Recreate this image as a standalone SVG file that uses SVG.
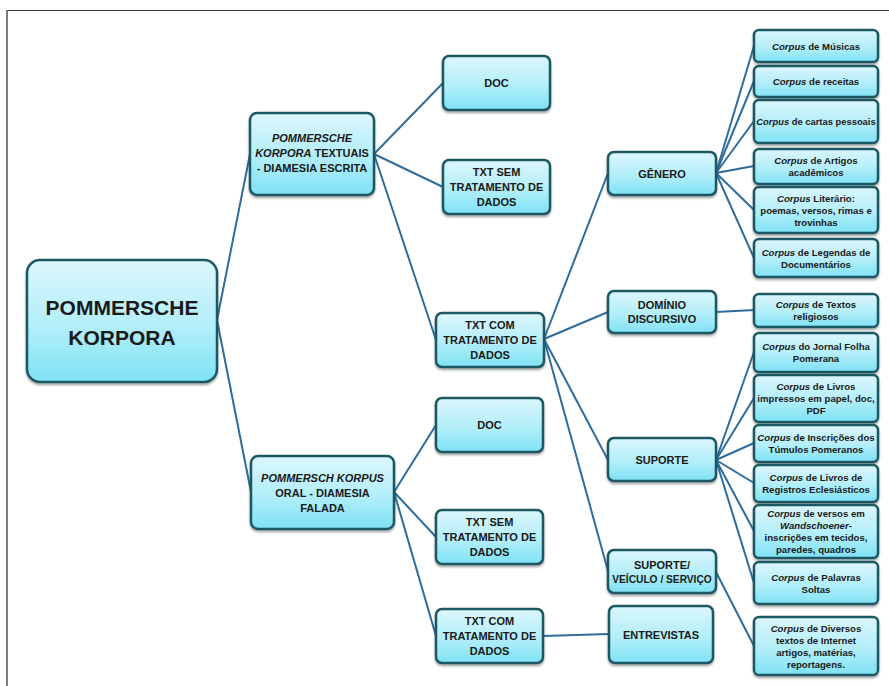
<svg xmlns="http://www.w3.org/2000/svg" width="889" height="686" viewBox="0 0 889 686">
  <defs>
    <linearGradient id="boxFill" x1="0" y1="0" x2="0" y2="1">
      <stop offset="0" stop-color="#dcf6fc"/>
      <stop offset="0.55" stop-color="#b2eef9"/>
      <stop offset="1" stop-color="#7ee2f4"/>
    </linearGradient>
    <filter id="shadow" x="-10%" y="-10%" width="120%" height="130%">
      <feDropShadow dx="0" dy="2" stdDeviation="1.3" flood-color="#000" flood-opacity="0.35"/>
    </filter>
  </defs>
  <style>
    .box { fill: url(#boxFill); stroke: #1f5863; stroke-width: 2.5; filter: url(#shadow); }
    .edge { fill: none; stroke: #2f6c9c; stroke-width: 2; }
    text { font-family: "Liberation Sans", Arial, sans-serif; font-weight: bold; fill: #1a1a1a; text-anchor: middle; }
    .root { font-size: 21px; }
    .l1 { font-size: 11px; }
    .mid { font-size: 11px; }
    .leaf { font-size: 9.6px; }
    .it { font-style: italic; }
  </style>

  <rect x="0" y="0" width="889" height="686" fill="#ffffff"/>
  <!-- page frame -->
  <line x1="7" y1="10.5" x2="889" y2="10.5" stroke="#3a3a3a" stroke-width="1"/>
  <line x1="7" y1="10" x2="7" y2="686" stroke="#5a5a5a" stroke-width="1.6"/>

  <g id="connectors">
    <!-- root to level 1 -->
    <path class="edge" d="M217 320 L250 154"/>
    <path class="edge" d="M217 320 L251 492"/>
    <!-- written branch -->
    <path class="edge" d="M374 154 L443 83"/>
    <path class="edge" d="M374 154 L443 187"/>
    <path class="edge" d="M374 154 L436 340"/>
    <!-- spoken branch -->
    <path class="edge" d="M394 492 L436 425"/>
    <path class="edge" d="M394 492 L436 537"/>
    <path class="edge" d="M394 492 L436 636"/>
    <!-- TXT COM (written) to categories -->
    <path class="edge" d="M544 339 L608 173"/>
    <path class="edge" d="M544 339 L608 312"/>
    <path class="edge" d="M544 339 L608 460"/>
    <path class="edge" d="M544 339 L608 571"/>
    <!-- TXT COM (spoken) to ENTREVISTAS -->
    <path class="edge" d="M543 636 L609 634"/>
    <!-- GÊNERO to leaves -->
    <path class="edge" d="M716 173 L754 46"/>
    <path class="edge" d="M716 173 L754 81"/>
    <path class="edge" d="M716 173 L754 121"/>
    <path class="edge" d="M716 173 L754 166"/>
    <path class="edge" d="M716 173 L754 210"/>
    <path class="edge" d="M716 173 L754 258"/>
    <!-- DOMÍNIO DISCURSIVO -->
    <path class="edge" d="M716 312 L754 310"/>
    <!-- SUPORTE to leaves -->
    <path class="edge" d="M716 460 L754 352"/>
    <path class="edge" d="M716 460 L754 398"/>
    <path class="edge" d="M716 460 L754 443"/>
    <path class="edge" d="M716 460 L754 483"/>
    <path class="edge" d="M716 460 L754 531"/>
    <path class="edge" d="M716 460 L754 583"/>
    <!-- SUPORTE / VEÍCULO / SERVIÇO -->
    <path class="edge" d="M716 572 L754 646"/>
  </g>

  <!-- root -->
  <g id="n-root">
    <rect class="box" x="27" y="260" width="190" height="122" rx="13"/>
    <text class="root" x="122" y="315">POMMERSCHE</text>
    <text class="root" x="122" y="345">KORPORA</text>
  </g>

  <!-- level 1 -->
  <g id="n-escrita">
    <rect class="box" x="250" y="113" width="124" height="82" rx="7"/>
    <text class="l1" x="312" y="142"><tspan class="it">POMMERSCHE</tspan></text>
    <text class="l1" x="312" y="157"><tspan class="it">KORPORA</tspan> TEXTUAIS</text>
    <text class="l1" x="312" y="172">- DIAMESIA ESCRITA</text>
  </g>
  <g id="n-falada">
    <rect class="box" x="251" y="456" width="143" height="73" rx="7"/>
    <text class="l1" x="322.5" y="481.5"><tspan class="it">POMMERSCH KORPUS</tspan></text>
    <text class="l1" x="322.5" y="496.5">ORAL - DIAMESIA</text>
    <text class="l1" x="322.5" y="511.5">FALADA</text>
  </g>

  <!-- level 2, written -->
  <g id="n-doc1">
    <rect class="box" x="443" y="56" width="107" height="54" rx="6"/>
    <text class="mid" x="496.5" y="87">DOC</text>
  </g>
  <g id="n-txtsem1">
    <rect class="box" x="443" y="160" width="107" height="54" rx="6"/>
    <text class="mid" x="496.5" y="176">TXT SEM</text>
    <text class="mid" x="496.5" y="191">TRATAMENTO DE</text>
    <text class="mid" x="496.5" y="206">DADOS</text>
  </g>
  <g id="n-txtcom1">
    <rect class="box" x="436" y="313" width="108" height="54" rx="6"/>
    <text class="mid" x="490" y="329">TXT COM</text>
    <text class="mid" x="490" y="344">TRATAMENTO DE</text>
    <text class="mid" x="490" y="359">DADOS</text>
  </g>

  <!-- level 2, spoken -->
  <g id="n-doc2">
    <rect class="box" x="436" y="398" width="107" height="54" rx="6"/>
    <text class="mid" x="489.5" y="429">DOC</text>
  </g>
  <g id="n-txtsem2">
    <rect class="box" x="436" y="510" width="107" height="54" rx="6"/>
    <text class="mid" x="489.5" y="526">TXT SEM</text>
    <text class="mid" x="489.5" y="541">TRATAMENTO DE</text>
    <text class="mid" x="489.5" y="556">DADOS</text>
  </g>
  <g id="n-txtcom2">
    <rect class="box" x="436" y="609" width="107" height="54" rx="6"/>
    <text class="mid" x="489.5" y="625">TXT COM</text>
    <text class="mid" x="489.5" y="640">TRATAMENTO DE</text>
    <text class="mid" x="489.5" y="655">DADOS</text>
  </g>

  <!-- level 3 -->
  <g id="n-genero">
    <rect class="box" x="608" y="152" width="108" height="43" rx="6"/>
    <text class="mid" x="662" y="177.5">GÊNERO</text>
  </g>
  <g id="n-dominio">
    <rect class="box" x="608" y="291" width="108" height="42" rx="6"/>
    <text class="mid" x="662" y="309">DOMÍNIO</text>
    <text class="mid" x="662" y="323">DISCURSIVO</text>
  </g>
  <g id="n-suporte">
    <rect class="box" x="608" y="438" width="108" height="43" rx="6"/>
    <text class="mid" x="662" y="463.5">SUPORTE</text>
  </g>
  <g id="n-veiculo">
    <rect class="box" x="608" y="550" width="108" height="43" rx="6"/>
    <text class="mid" x="662" y="568.5">SUPORTE/</text>
    <text class="mid" x="662" y="582.5" style="font-size:10.2px">VEÍCULO / SERVIÇO</text>
  </g>
  <g id="n-entrevistas">
    <rect class="box" x="609" y="606" width="104" height="57" rx="6"/>
    <text class="mid" x="661" y="638.5">ENTREVISTAS</text>
  </g>

  <!-- leaves -->
  <g id="n-musicas">
    <rect class="box" x="754" y="30" width="124" height="32" rx="5"/>
    <text class="leaf" x="816" y="49.5"><tspan class="it">Corpus</tspan> de Músicas</text>
  </g>
  <g id="n-receitas">
    <rect class="box" x="754" y="66" width="124" height="31" rx="5"/>
    <text class="leaf" x="816" y="84.5"><tspan class="it">Corpus</tspan> de receitas</text>
  </g>
  <g id="n-cartas">
    <rect class="box" x="754" y="100" width="124" height="43" rx="5"/>
    <text class="leaf" x="816" y="125" style="font-size:9.4px"><tspan class="it">Corpus</tspan> de cartas pessoais</text>
  </g>
  <g id="n-artigos">
    <rect class="box" x="754" y="149" width="124" height="35" rx="5"/>
    <text class="leaf" x="816" y="164"><tspan class="it">Corpus</tspan> de Artigos</text>
    <text class="leaf" x="816" y="176">acadêmicos</text>
  </g>
  <g id="n-literario">
    <rect class="box" x="754" y="187" width="124" height="46" rx="5"/>
    <text class="leaf" x="816" y="201.5"><tspan class="it">Corpus</tspan> Literário:</text>
    <text class="leaf" x="816" y="213.5">poemas, versos, rimas e</text>
    <text class="leaf" x="816" y="225.5">trovinhas</text>
  </g>
  <g id="n-legendas">
    <rect class="box" x="754" y="239" width="124" height="38" rx="5"/>
    <text class="leaf" x="816" y="255.5"><tspan class="it">Corpus</tspan> de Legendas de</text>
    <text class="leaf" x="816" y="267.5">Documentários</text>
  </g>
  <g id="n-religiosos">
    <rect class="box" x="754" y="294" width="124" height="33" rx="5"/>
    <text class="leaf" x="816" y="308"><tspan class="it">Corpus</tspan> de Textos</text>
    <text class="leaf" x="816" y="320">religiosos</text>
  </g>
  <g id="n-jornal">
    <rect class="box" x="754" y="333" width="124" height="39" rx="5"/>
    <text class="leaf" x="816" y="350"><tspan class="it">Corpus</tspan> do Jornal Folha</text>
    <text class="leaf" x="816" y="362">Pomerana</text>
  </g>
  <g id="n-livros">
    <rect class="box" x="754" y="375" width="124" height="47" rx="5"/>
    <text class="leaf" x="816" y="390"><tspan class="it">Corpus</tspan> de Livros</text>
    <text class="leaf" x="816" y="402">impressos em papel, doc,</text>
    <text class="leaf" x="816" y="414">PDF</text>
  </g>
  <g id="n-inscricoes">
    <rect class="box" x="754" y="425" width="124" height="37" rx="5"/>
    <text class="leaf" x="816" y="441"><tspan class="it">Corpus</tspan> de Inscrições dos</text>
    <text class="leaf" x="816" y="453">Túmulos Pomeranos</text>
  </g>
  <g id="n-registros">
    <rect class="box" x="754" y="465" width="124" height="37" rx="5"/>
    <text class="leaf" x="816" y="481"><tspan class="it">Corpus</tspan> de Livros de</text>
    <text class="leaf" x="816" y="493">Registros Eclesiásticos</text>
  </g>
  <g id="n-versos">
    <rect class="box" x="754" y="505" width="124" height="53" rx="5"/>
    <text class="leaf" x="816" y="517"><tspan class="it">Corpus</tspan> de versos em</text>
    <text class="leaf" x="816" y="529"><tspan class="it">Wandschoener</tspan>-</text>
    <text class="leaf" x="816" y="541">inscrições em tecidos,</text>
    <text class="leaf" x="816" y="553">paredes, quadros</text>
  </g>
  <g id="n-palavras">
    <rect class="box" x="754" y="562" width="124" height="42" rx="5"/>
    <text class="leaf" x="816" y="580.5"><tspan class="it">Corpus</tspan> de Palavras</text>
    <text class="leaf" x="816" y="592.5">Soltas</text>
  </g>
  <g id="n-diversos">
    <rect class="box" x="754" y="617" width="124" height="58" rx="5"/>
    <text class="leaf" x="816" y="631.5"><tspan class="it">Corpus</tspan> de Diversos</text>
    <text class="leaf" x="816" y="643.5">textos de Internet</text>
    <text class="leaf" x="816" y="655.5">artigos, matérias,</text>
    <text class="leaf" x="816" y="667.5">reportagens.</text>
  </g>
</svg>
